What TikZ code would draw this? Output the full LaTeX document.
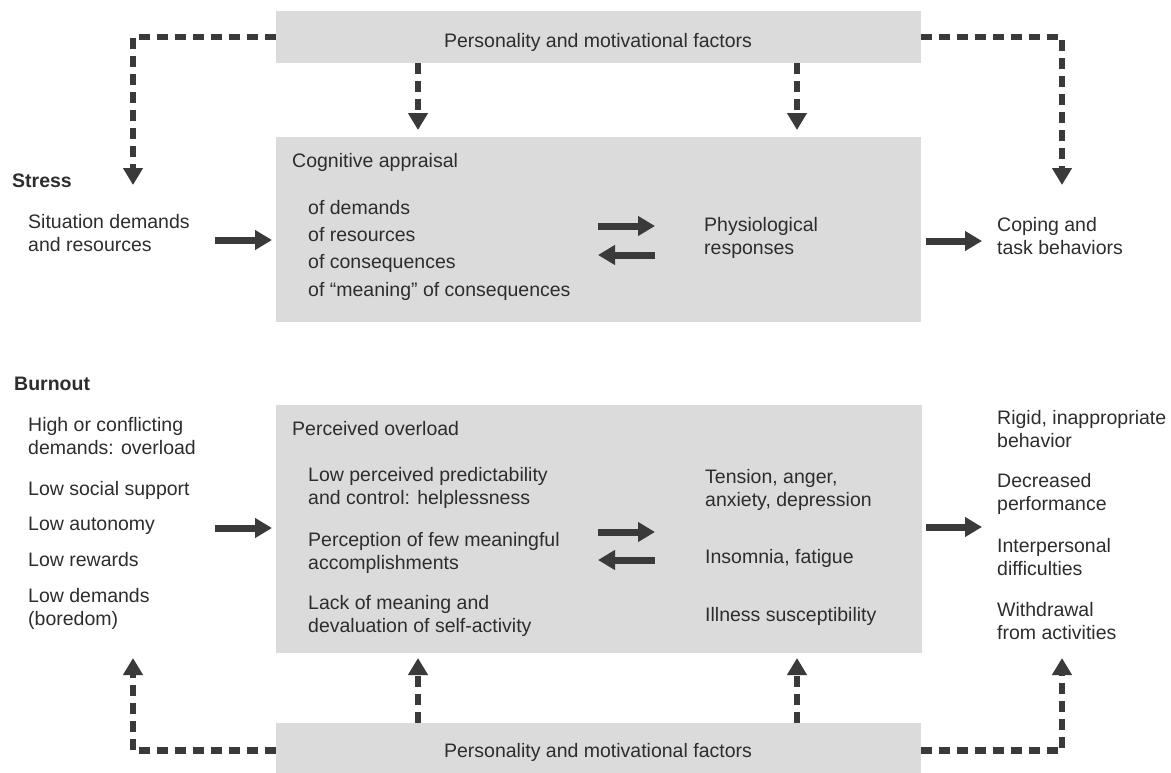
\documentclass[tikz,border=0pt]{standalone}
\usepackage{fontspec}
\setmainfont{Liberation Sans}
\usetikzlibrary{arrows.meta}
\definecolor{boxgray}{RGB}{219,219,219}
\definecolor{ink}{RGB}{45,45,45}
\definecolor{arrowink}{RGB}{58,58,58}
\begin{document}
\begin{tikzpicture}[x=1pt,y=-1pt,
  box/.style={fill=boxgray, draw=none, inner sep=0pt, outer sep=0pt, anchor=north west},
  txt/.style={anchor=base west, inner sep=0pt, text=ink, align=left, font=\fontsize{19.5}{22.5}\selectfont},
  head/.style={txt, font=\fontsize{19.5}{22.5}\selectfont\bfseries},
  solidarrow/.style={draw=arrowink, line width=7pt, -{Triangle[length=17pt,width=19pt]}},
  dasharrow/.style={draw=arrowink, line width=6.5pt, dash pattern=on 11pt off 7pt, -{Triangle[length=17pt,width=19pt]}},
]
\useasboundingbox (0,0) rectangle (1171,772);
\fill[white] (0,0) rectangle (1171,772);

% boxes
\node[box, minimum width=645pt, minimum height=52pt] (pm1) at (276,11) {};
\node[box, minimum width=645pt, minimum height=185pt] (ca) at (276,137) {};
\node[box, minimum width=646pt, minimum height=248pt] (po) at (276,405) {};
\node[box, minimum width=645pt, minimum height=55pt] (pm2) at (276,723) {};

\node[txt, anchor=base] (pmt1) at (598,47) {Personality and motivational factors};
\node[txt, anchor=base] (pmt2) at (598,757) {Personality and motivational factors};

% stress texts (multi-line nodes are placed by the baseline of their last line)
\node[head] (stress) at (12,187) {Stress};
\node[txt] (sit) at (28,251) {Situation demands\\and resources};
\node[txt] (cog) at (292,167) {Cognitive appraisal};
\node[txt, font=\fontsize{19.5}{27.3}\selectfont] (of) at (308,296) {of demands\\of resources\\of consequences\\of ``meaning'' of consequences};
\node[txt] (phys) at (704,254) {Physiological\\responses};
\node[txt] (cope) at (997,254) {Coping and\\task behaviors};

% burnout texts
\node[head] (burn) at (14,390) {Burnout};
\node[txt] (l1) at (28,454) {High or conflicting\\demands: overload};
\node[txt] (l2) at (28,495) {Low social support};
\node[txt] (l3) at (28,530) {Low autonomy};
\node[txt] (l4) at (28,566) {Low rewards};
\node[txt] (l5) at (28,625) {Low demands\\(boredom)};
\node[txt] (perc) at (292,435) {Perceived overload};
\node[txt] (m1) at (308,504) {Low perceived predictability\\and control: helplessness};
\node[txt] (m2) at (308,569) {Perception of few meaningful\\accomplishments};
\node[txt] (m3) at (308,632) {Lack of meaning and\\devaluation of self-activity};
\node[txt] (r1) at (705,506) {Tension, anger,\\anxiety, depression};
\node[txt] (r2) at (705,563) {Insomnia, fatigue};
\node[txt] (r3) at (705,621) {Illness susceptibility};
\node[txt] (o1) at (997,447) {Rigid, inappropriate\\behavior};
\node[txt] (o2) at (997,510) {Decreased\\performance};
\node[txt] (o3) at (997,575) {Interpersonal\\difficulties};
\node[txt] (o4) at (997,639) {Withdrawal\\from activities};

% coordinates for arrow ends
\coordinate (sa1) at (215,240); \coordinate (sa2) at (272,240);
\coordinate (sb1) at (926,241); \coordinate (sb2) at (982,241);
\coordinate (si1) at (598,226); \coordinate (si2) at (655,226);
\coordinate (sj1) at (655,255); \coordinate (sj2) at (598,255);
\coordinate (ba1) at (215,528); \coordinate (ba2) at (272,528);
\coordinate (bb1) at (926,527); \coordinate (bb2) at (982,527);
\coordinate (bi1) at (598,532); \coordinate (bi2) at (655,532);
\coordinate (bj1) at (655,560); \coordinate (bj2) at (598,560);

\draw[solidarrow] (sa1) -- (sa2);
\draw[solidarrow] (sb1) -- (sb2);
\draw[solidarrow] (si1) -- (si2);
\draw[solidarrow] (sj1) -- (sj2);
\draw[solidarrow] (ba1) -- (ba2);
\draw[solidarrow] (bb1) -- (bb2);
\draw[solidarrow] (bi1) -- (bi2);
\draw[solidarrow] (bj1) -- (bj2);

% dashed connectors
\coordinate (tl) at (133,185); \coordinate (tr) at (1062,185);
\coordinate (t1) at (418,130); \coordinate (t2) at (797,130);
\coordinate (bl) at (133,658); \coordinate (br) at (1062,658);
\coordinate (b1) at (418,658); \coordinate (b2) at (797,658);

\draw[dasharrow] (pm1.west) -| (tl);
\draw[dasharrow] (pm1.east) -| (tr);
\draw[dasharrow] (t1 |- pm1.south) -- (t1);
\draw[dasharrow] (t2 |- pm1.south) -- (t2);
\draw[dasharrow] (pm2.west) -| (bl);
\draw[dasharrow] (pm2.east) -| (br);
\draw[dasharrow] (b1 |- pm2.north) -- (b1);
\draw[dasharrow] (b2 |- pm2.north) -- (b2);
\end{tikzpicture}
\end{document}
